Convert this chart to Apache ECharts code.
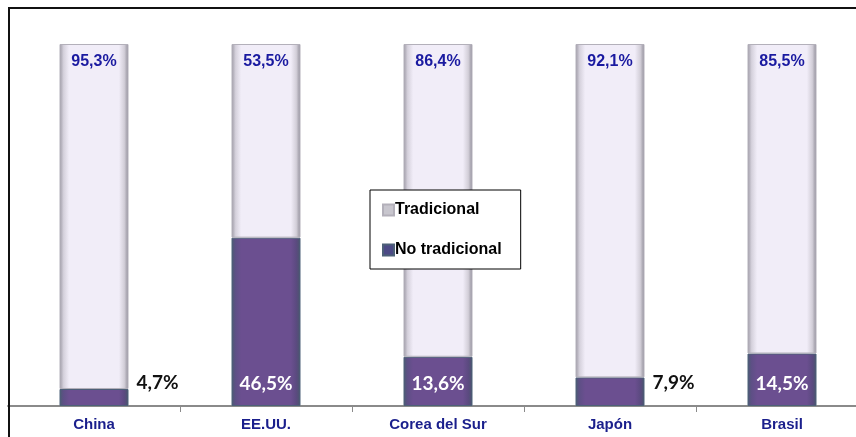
<!DOCTYPE html>
<html>
<head>
<meta charset="utf-8">
<script src="https://cdn.jsdelivr.net/npm/echarts@6/dist/echarts.min.js"></script>
<style>
  html, body { margin: 0; padding: 0; background: #fff; overflow: hidden; }
  #chart { width: 856px; height: 437px; }
  #frame { position: absolute; left: 8px; top: 7px; width: 860px; height: 500px; border: 2px solid #111; border-bottom: none; box-sizing: border-box; pointer-events: none; }
</style>
</head>
<body>
<div id="chart"></div>
<div id="frame"></div>
<script>
// categories and values (percent)
const countries = ['China', 'EE.UU.', 'Corea del Sur', 'Japón', 'Brasil'];
const noTradicional = [4.7, 46.5, 13.6, 7.9, 14.5];
const tradicional = [95.3, 53.5, 86.4, 92.1, 85.5];

const fmt = (v) => v.toFixed(1).replace('.', ',') + '%';

const lightFill = new echarts.graphic.LinearGradient(0, 0, 1, 0, [
  { offset: 0, color: '#9c99a4' },
  { offset: 0.06, color: '#d5d1dc' },
  { offset: 0.14, color: '#f1edf8' },
  { offset: 0.86, color: '#f1edf8' },
  { offset: 0.94, color: '#d2ced8' },
  { offset: 1, color: '#8f8c97' }
]);
const darkFill = new echarts.graphic.LinearGradient(0, 0, 1, 0, [
  { offset: 0, color: '#4b5b72' },
  { offset: 0.06, color: '#5e4f86' },
  { offset: 0.14, color: '#6b4f90' },
  { offset: 0.86, color: '#6b4f90' },
  { offset: 0.94, color: '#5b4a80' },
  { offset: 1, color: '#48566c' }
]);

const chart = echarts.init(document.getElementById('chart'), null, { renderer: 'canvas' });

chart.setOption({
  animation: false,
  grid: { left: 8, width: 860, top: 44, bottom: 31, outerBoundsMode: 'none', containLabel: false },
  legend: {
    left: 370,
    top: 190,
    orient: 'vertical',
    padding: [12, 19, 11, 12],
    itemGap: 24,
    itemWidth: 11,
    itemHeight: 11,
    borderColor: '#000',
    borderWidth: 1,
    backgroundColor: '#fff',
    data: [
      { name: 'Tradicional', icon: 'rect', itemStyle: { color: '#c8c6ce' } },
      { name: 'No tradicional', icon: 'rect', itemStyle: { color: '#4c4a86' } }
    ],
    textStyle: {
      fontFamily: '"Liberation Sans Narrow", "Liberation Sans", Arial, sans-serif',
      fontWeight: 'bold',
      fontSize: 16,
      color: '#000',
      padding: [0, 0, 0, -4]
    }
  },
  xAxis: {
    type: 'category',
    data: countries,
    axisLine: { lineStyle: { color: '#8a8a8a', width: 2 } },
    axisTick: { show: true, length: 6, lineStyle: { color: '#8a8a8a' } },
    axisLabel: {
      margin: 11,
      fontFamily: '"Liberation Sans Narrow", "Liberation Sans", Arial, sans-serif',
      fontWeight: 'bold',
      fontSize: 15,
      color: '#1a1f8c'
    }
  },
  yAxis: {
    type: 'value',
    min: 0,
    max: 100,
    show: false
  },
  series: [
    {
      name: 'No tradicional',
      type: 'bar',
      stack: 'total',
      barWidth: 69,
      data: noTradicional.map((v) => ({
        value: v,
        label: v < 10
          ? { position: 'right', offset: [3, -23 + v * 1.81], color: '#111' }
          : { position: 'insideBottom', distance: 13, color: '#fff' }
      })),
      itemStyle: { color: darkFill, borderColor: '#4d6078', borderWidth: 1 },
      label: {
        show: true,
        formatter: (p) => fmt(p.value),
        fontFamily: 'Lato, "Open Sans", sans-serif',
        fontWeight: 'bold',
        fontSize: 19
      }
    },
    {
      name: 'Tradicional',
      type: 'bar',
      stack: 'total',
      barWidth: 69,
      data: tradicional,
      itemStyle: { color: lightFill, borderColor: '#b3b0ba', borderWidth: 1 },
      label: {
        show: true,
        position: 'insideTop',
        distance: 10,
        formatter: (p) => fmt(p.value),
        fontFamily: '"Liberation Sans", Arial, sans-serif',
        fontWeight: 'bold',
        fontSize: 16,
        color: '#1a1aa0'
      }
    }
  ]
});
</script>
</body>
</html>
